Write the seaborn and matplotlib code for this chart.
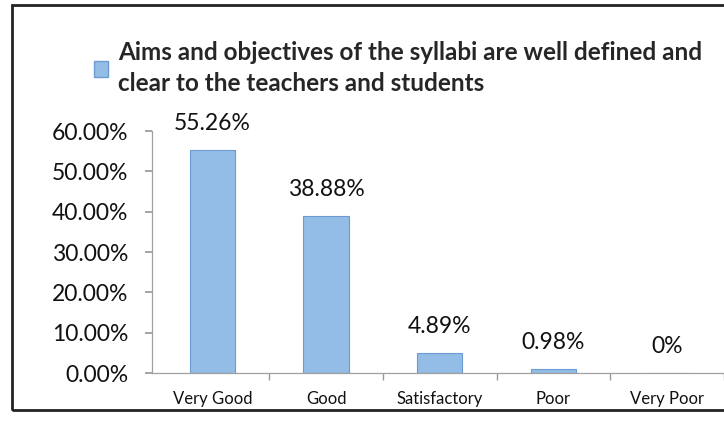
import pandas as pd
import seaborn as sns
import matplotlib.pyplot as plt
from matplotlib.patches import Rectangle, Patch
from matplotlib.ticker import PercentFormatter

sns.set_theme(style="white")
plt.rcParams['font.family'] = ['Lato', 'DejaVu Sans']

# values
ratings = ["Very Good", "Good", "Satisfactory", "Poor", "Very Poor"]
share = [55.26, 38.88, 4.89, 0.98, 0.0]
share_labels = ["55.26%", "38.88%", "4.89%", "0.98%", "0%"]
series_name = ("Aims and objectives of the syllabi are well defined and\n"
               "clear to the teachers and students")

df = pd.DataFrame({"rating": ratings, "share": share})

fig = plt.figure(figsize=(7.24, 4.23), dpi=100)
ax = fig.add_axes([0.21, 0.118, 0.79, 0.572])

bar_color = "#93bce6"
sns.barplot(data=df, x="rating", y="share", color=bar_color, width=0.4,
            edgecolor="#6c9bd2", linewidth=0.8, saturation=1, ax=ax)

ax.set_ylim(0, 60)
ax.set_xlim(-0.53, 4.22)
ax.set_yticks(range(0, 61, 10))
ax.yaxis.set_major_formatter(PercentFormatter(decimals=2))
ax.set_xlabel("")
ax.set_ylabel("")

# category separators on the x axis
ax.set_xticks([i + 0.5 for i in range(len(ratings))], minor=True)
ax.tick_params(axis="x", which="minor", bottom=True, length=5, color="#999999")
ax.tick_params(axis="x", which="major", bottom=False, labelsize=12, pad=7, colors="#111111")
ax.tick_params(axis="y", left=True, length=5, color="#999999", labelsize=16.5,
               pad=12, colors="#111111")

for s in ["top", "right"]:
    ax.spines[s].set_visible(False)
for s in ["left", "bottom"]:
    ax.spines[s].set_color("#a0a0a0")
    ax.spines[s].set_linewidth(0.9)

# data labels
for i, (v, lab) in enumerate(zip(share, share_labels)):
    ax.annotate(lab, (i, v), xytext=(0, 19), textcoords="offset points",
                ha="center", va="center", fontsize=16.5, color="#111111")

# legend at top
leg = fig.legend(handles=[Patch(facecolor=bar_color, edgecolor="#6c9bd2")],
                 labels=[series_name], loc="upper left", bbox_to_anchor=(0.099, 0.955),
                 frameon=False, handlelength=0.6, handleheight=0.6, handletextpad=0.4,
                 prop={"weight": "bold", "size": 17.5})
for t in leg.get_texts():
    t.set_linespacing(1.45)

# photo frame
fig.add_artist(Rectangle((0.017, 0.03), 1.0, 0.957, transform=fig.transFigure,
                         fill=False, edgecolor="#222222", linewidth=2))

fig.savefig("out.png", dpi=100)
